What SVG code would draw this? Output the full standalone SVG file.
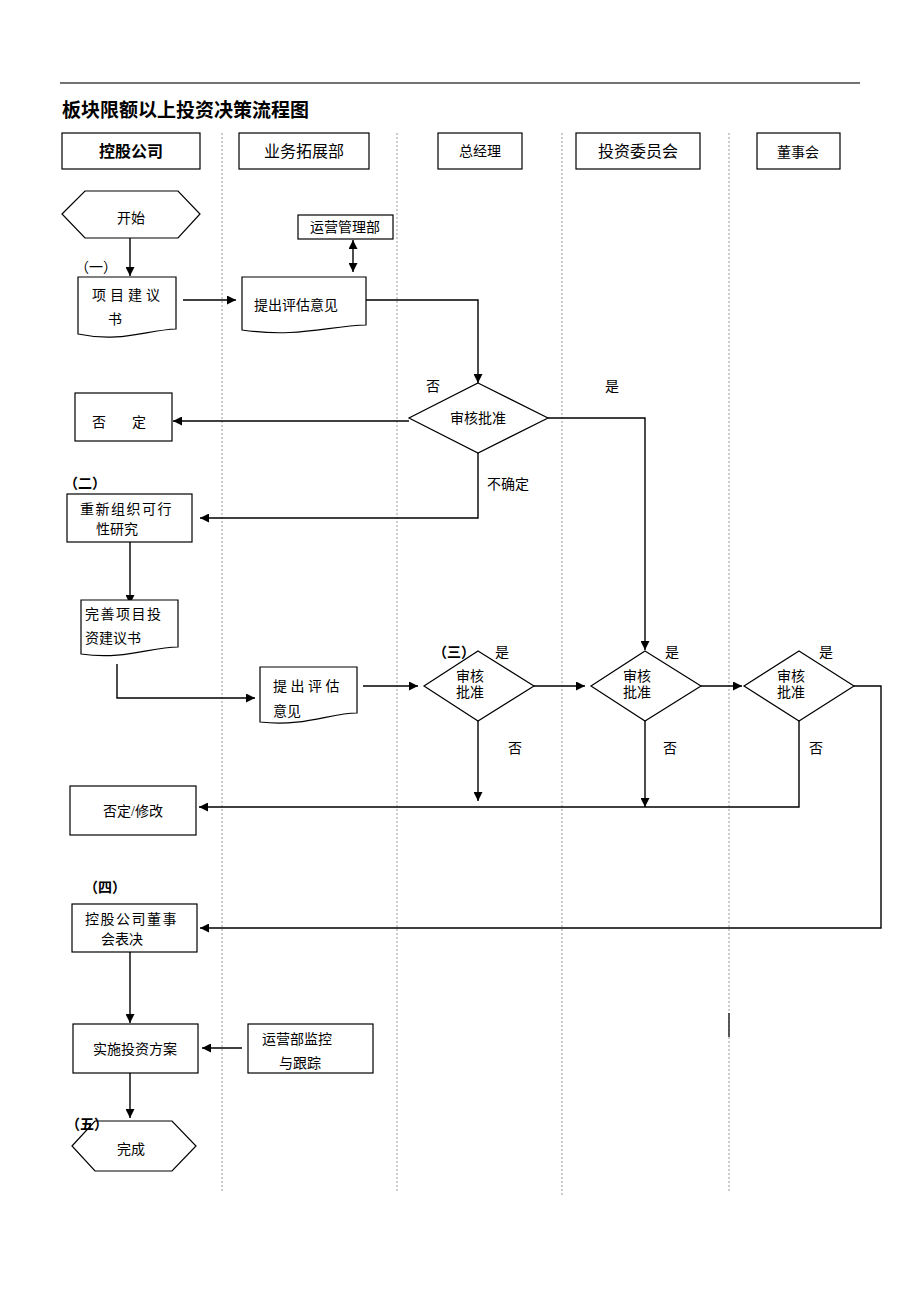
<svg xmlns="http://www.w3.org/2000/svg" width="920" height="1302" viewBox="0 0 920 1302">
<style>
.t{font-family:"Liberation Serif","Noto Sans CJK SC",serif;font-size:14px;fill:#000}
.h{font-family:"Liberation Serif","Noto Sans CJK SC",serif;font-size:16px;fill:#000;text-anchor:middle}
.c{text-anchor:middle}
.s{fill:#fff;stroke:#000;stroke-width:1.2}
.ln{fill:none;stroke:#000;stroke-width:1.4}
.lane{stroke:#999;stroke-width:1;stroke-dasharray:2,2}
</style>
<defs>
<marker id="a" viewBox="0 0 10 10" refX="10" refY="5" markerWidth="9" markerHeight="9" markerUnits="userSpaceOnUse" orient="auto"><path d="M0,0 L10,5 L0,10 Z" fill="#000"/></marker>
<marker id="as" viewBox="0 0 10 10" refX="0" refY="5" markerWidth="9" markerHeight="9" markerUnits="userSpaceOnUse" orient="auto"><path d="M10,0 L0,5 L10,10 Z" fill="#000"/></marker>
</defs>
<rect width="920" height="1302" fill="#fff"/>
<line x1="60" y1="83" x2="860" y2="83" stroke="#444" stroke-width="1.6"/>
<text x="62" y="117" font-family="'Noto Sans CJK SC',sans-serif" font-size="19" font-weight="bold">板块限额以上投资决策流程图</text>
<g id="lanes">
<line class="lane" x1="222" y1="133" x2="222" y2="1193"/>
<line class="lane" x1="397" y1="133" x2="397" y2="1193"/>
<line class="lane" x1="562" y1="133" x2="562" y2="1196"/>
<line class="lane" x1="729" y1="133" x2="729" y2="1193"/>
<line x1="729" y1="1013" x2="729" y2="1037" stroke="#333" stroke-width="1.6"/>
</g>
<g id="hdr1"><rect class="s" x="62" y="133" width="138" height="36"/><text class="h" x="131" y="157" font-weight="bold" font-family="'Noto Sans CJK SC',sans-serif">控股公司</text></g>
<g id="hdr2"><rect class="s" x="239" y="133" width="130" height="36"/><text class="h" x="304" y="157">业务拓展部</text></g>
<g id="hdr3"><rect class="s" x="438" y="133" width="84" height="36"/><text class="t c" x="480" y="156">总经理</text></g>
<g id="hdr4"><rect class="s" x="576" y="133" width="124" height="36"/><text class="h" x="638" y="157">投资委员会</text></g>
<g id="hdr5"><rect class="s" x="757" y="133" width="83" height="36"/><text class="t c" x="798" y="157" font-size="15">董事会</text></g>

<g id="connectors">
<line class="ln" x1="130" y1="238" x2="130" y2="276" marker-end="url(#a)"/>
<line class="ln" x1="183" y1="300" x2="236" y2="300" marker-end="url(#a)"/>
<line class="ln" x1="353" y1="240" x2="353" y2="272" marker-start="url(#as)" marker-end="url(#a)"/>
<polyline class="ln" points="366,300 478,300 478,383" marker-end="url(#a)"/>
<line class="ln" x1="409" y1="421" x2="173" y2="421" marker-end="url(#a)"/>
<polyline class="ln" points="548,418 645,418 645,650" marker-end="url(#a)"/>
<polyline class="ln" points="478,453 478,518 200,518" marker-end="url(#a)"/>
<line class="ln" x1="130" y1="542" x2="130" y2="604" marker-end="url(#a)"/>
<polyline class="ln" points="117,664 117,698 255,698" marker-end="url(#a)"/>
<line class="ln" x1="363" y1="686" x2="418" y2="686" marker-end="url(#a)"/>
<line class="ln" x1="534" y1="686" x2="585" y2="686" marker-end="url(#a)"/>
<line class="ln" x1="701" y1="686" x2="742" y2="686" marker-end="url(#a)"/>
<polyline class="ln" points="854,686 881,686 881,928 200,928" marker-end="url(#a)"/>
<line class="ln" x1="478" y1="721" x2="478" y2="801" marker-end="url(#a)"/>
<line class="ln" x1="645" y1="721" x2="645" y2="807" marker-end="url(#a)"/>
<polyline class="ln" points="799,721 799,807 199,807" marker-end="url(#a)"/>
<line class="ln" x1="130" y1="952" x2="130" y2="1023" marker-end="url(#a)"/>
<line class="ln" x1="242" y1="1048" x2="202" y2="1048" marker-end="url(#a)"/>
<line class="ln" x1="130" y1="1073" x2="130" y2="1118" marker-end="url(#a)"/>
</g>

<g id="start"><polygon class="s" points="62,214 85,191 178,191 200,214 178,238 85,238"/><text class="t c" x="131" y="223">开始</text></g>
<text class="t" x="75" y="272">（一）</text>
<g id="doc1"><path class="s" d="M78,277 H176 V329 C146,330 121,343 78,334 Z"/><text class="t" x="92" y="300" letter-spacing="4">项目建议</text><text class="t" x="108" y="324">书</text></g>
<g id="doc2"><path class="s" d="M242,277 H366 V325 C328,326 297,338 242,330 Z"/><text class="t" x="254" y="310">提出评估意见</text></g>
<g id="ops"><rect class="s" x="298" y="215" width="95" height="24"/><text class="t c" x="345" y="232">运营管理部</text></g>
<g id="dia1"><polygon class="s" points="478,383 548,418 478,453 409,418"/><text class="t c" x="478" y="423">审核批准</text></g>
<text class="t" x="426" y="391">否</text>
<text class="t" x="605" y="391">是</text>
<g id="reject1"><rect class="s" x="75" y="393" width="97" height="48"/><text class="t" x="92" y="427">否</text><text class="t" x="132" y="427">定</text></g>
<text class="t" x="487" y="489">不确定</text>
<text class="t" x="64" y="488" font-weight="bold">（二）</text>
<g id="redo"><rect class="s" x="67" y="494" width="125" height="48"/><text class="t" x="80" y="514" letter-spacing="1.5">重新组织可行</text><text class="t" x="96" y="534">性研究</text></g>
<g id="doc3"><path class="s" d="M81,600 H178 V647 C150,647 125,660 81,654 Z"/><text class="t" x="85" y="619" letter-spacing="1.5">完善项目投</text><text class="t" x="85" y="643">资建议书</text></g>
<g id="doc4"><path class="s" d="M260,667 H357 V713 C330,713 305,727 260,722 Z"/><text class="t" x="273" y="691" letter-spacing="3.5">提出评估</text><text class="t" x="273" y="716">意见</text></g>
<text class="t" x="433" y="657" font-weight="bold">（三）</text>
<text class="t" x="495" y="657">是</text>
<g id="dia2"><polygon class="s" points="478,651 534,686 478,721 424,686"/><text class="t c" x="470" y="681">审核</text><text class="t c" x="470" y="697">批准</text></g>
<g id="dia3"><polygon class="s" points="645,651 701,686 645,721 591,686"/><text class="t c" x="637" y="681">审核</text><text class="t c" x="637" y="697">批准</text></g>
<g id="dia4"><polygon class="s" points="799,651 854,686 799,721 744,686"/><text class="t c" x="791" y="681">审核</text><text class="t c" x="791" y="697">批准</text></g>
<text class="t" x="665" y="657">是</text>
<text class="t" x="819" y="657">是</text>
<text class="t" x="508" y="753">否</text>
<text class="t" x="663" y="753">否</text>
<text class="t" x="809" y="753">否</text>
<g id="reject2"><rect class="s" x="70" y="786" width="126" height="49"/><text class="t c" x="133" y="816">否定/修改</text></g>
<text class="t" x="84" y="892" font-weight="bold">（四）</text>
<g id="board"><rect class="s" x="72" y="904" width="125" height="48"/><text class="t" x="85" y="924" letter-spacing="1.5">控股公司董事</text><text class="t" x="101" y="944">会表决</text></g>
<g id="impl"><rect class="s" x="73" y="1024" width="125" height="49"/><text class="t c" x="135" y="1054">实施投资方案</text></g>
<g id="monitor"><rect class="s" x="248" y="1024" width="125" height="49"/><text class="t" x="262" y="1044">运营部监控</text><text class="t" x="279" y="1068">与跟踪</text></g>
<g id="end"><polygon class="s" points="72,1146 95,1121 172,1121 196,1146 172,1171 95,1171"/><text class="t c" x="131" y="1154">完成</text></g>
<text class="t" x="66" y="1129" font-weight="bold">（五）</text>
</svg>
